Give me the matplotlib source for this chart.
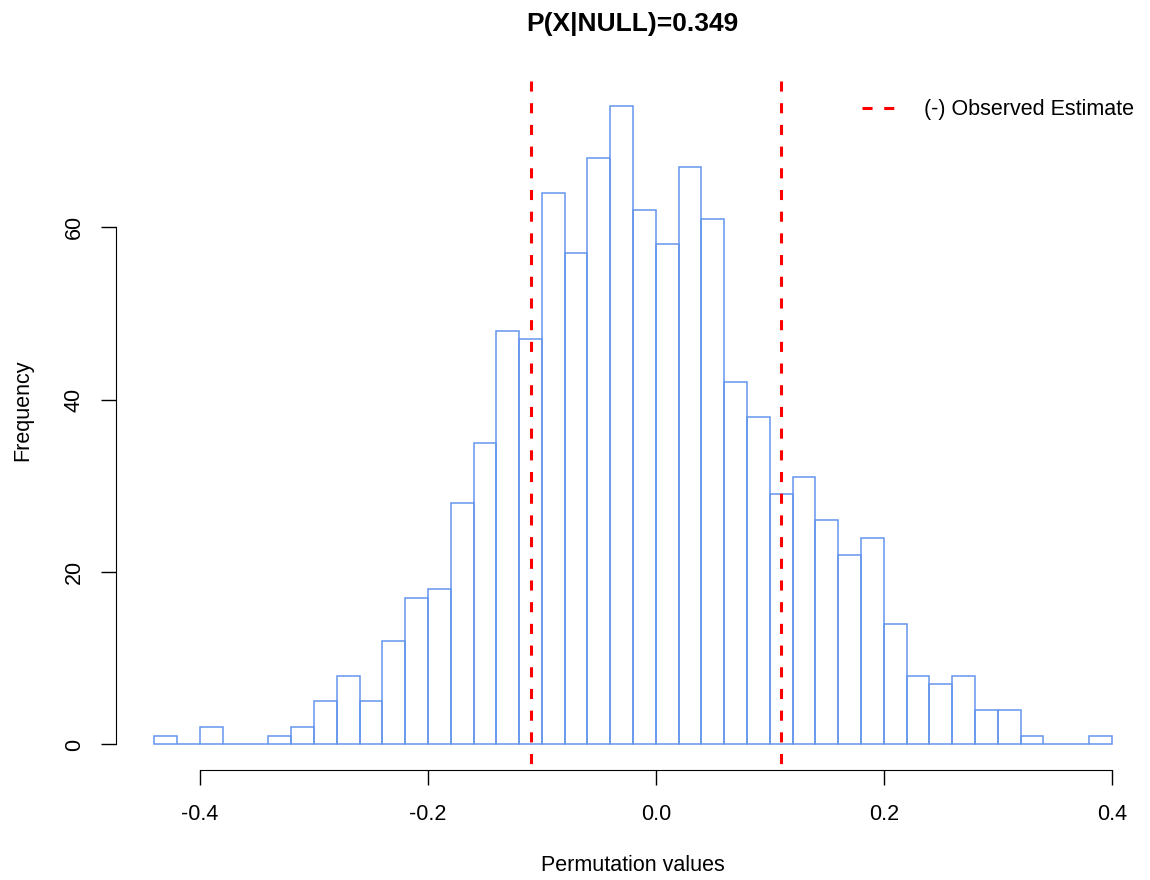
import numpy as np
import matplotlib.pyplot as plt

plt.rcParams['font.family'] = ['Liberation Sans', 'DejaVu Sans']

# histogram of permutation values, bin width 0.02
bin_edges = np.round(np.arange(-0.44, 0.4001, 0.02), 2)
counts = [1, 0, 2, 0, 0, 1, 2, 5, 8, 5, 12, 17, 18, 28, 35, 48, 47,
          64, 57, 68, 74, 62, 58, 67, 61, 42, 38, 29, 31, 26, 22, 24,
          14, 8, 7, 8, 4, 4, 1, 0, 0, 1]
observed = [-0.11, 0.11]
p_value = 0.349
xticks = [-0.4, -0.2, 0.0, 0.2, 0.4]
yticks = [0, 20, 40, 60]

W, H = 1150, 880
fig = plt.figure(figsize=(W / 100, H / 100), dpi=100)
ax = fig.add_axes([0.101, 0.125, 0.899, 0.783])

ax.bar(bin_edges[:-1], counts, width=0.02, align='edge', fill=False,
       edgecolor='#6495ED', linewidth=1.1)

# dashed lines drawn top -> bottom so the dash pattern starts at the top like abline
for i, v in enumerate(observed):
    ax.plot([v, v], [1, 0], transform=ax.get_xaxis_transform(), color='red',
            linestyle=(0, (3.3, 3.8)), linewidth=2.2,
            label='(-) Observed Estimate' if i == 0 else None)

# R style: extend 4% beyond data range
x0, x1 = bin_edges[0], bin_edges[-1]
pad = 0.04 * (x1 - x0)
ax.set_xlim(x0 - pad, x1 + pad)
ymax = max(counts)
ax.set_ylim(-0.04 * ymax, ymax * 1.04)

for s in ['top', 'right']:
    ax.spines[s].set_visible(False)
ax.spines['left'].set_bounds(yticks[0], yticks[-1])
ax.spines['bottom'].set_bounds(xticks[0], xticks[-1])
ax.set_xticks(xticks)
ax.set_xticklabels(['-0.4', '-0.2', '0.0', '0.2', '0.4'])
ax.set_yticks(yticks)
ax.tick_params(axis='both', length=10.5, width=1, labelsize=15.5)
ax.tick_params(axis='x', pad=14)
ax.tick_params(axis='y', pad=12)
for lab in ax.get_yticklabels():
    lab.set_rotation(90)
    lab.set_va('center')

ax.set_xlabel('Permutation values', fontsize=15.5)
ax.xaxis.set_label_coords(633 / W, 1 - 865 / H, transform=fig.transFigure)
ax.xaxis.label.set_va('center')
ax.set_ylabel('Frequency', fontsize=15.5)
ax.yaxis.set_label_coords(23 / W, 1 - 410 / H, transform=fig.transFigure)
ax.yaxis.label.set_ha('center')
ax.yaxis.label.set_va('center')

fig.text(632 / W, 1 - 24 / H, 'P(X|NULL)={}'.format(p_value), fontsize=19,
         fontweight='bold', ha='center', va='center')

ax.legend(loc='center left', frameon=False, fontsize=15.5, handlelength=1.6,
          handletextpad=1.3, borderpad=0, borderaxespad=0,
          bbox_to_anchor=(862 / W, 1 - 110 / H), bbox_transform=fig.transFigure)

fig.savefig('out.png')
